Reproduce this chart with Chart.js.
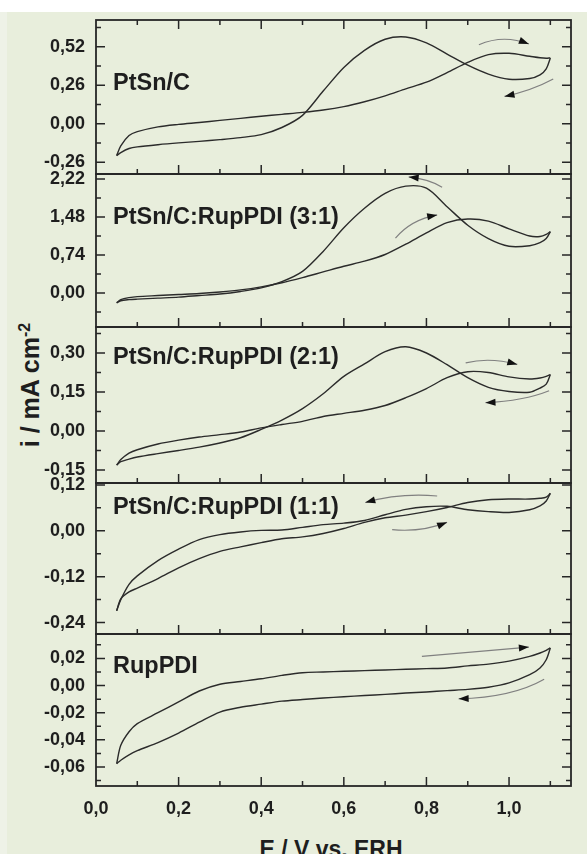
<!DOCTYPE html>
<html>
<head>
<meta charset="utf-8">
<script src="https://cdn.jsdelivr.net/npm/chart.js@4.4.0/dist/chart.umd.min.js"></script>
<style>
  html, body { margin: 0; padding: 0; background: #fff; }
  body { width: 587px; height: 854px; position: relative; overflow: hidden; font-family: "Liberation Sans", Arial, sans-serif; }
  #bg { position: absolute; left: 0; top: 12px; width: 587px; height: 842px; background: #eef2e7; }
  #bg2 { position: absolute; left: 7px; top: 12px; width: 580px; height: 842px; background: #e8eedc; }
  canvas { position: absolute; left: 0; }
  .ytitle { position: absolute; left: 30px; top: 385px; transform: translate(-50%, -50%) rotate(-90deg);
            font-weight: bold; font-size: 25px; white-space: nowrap; color: #1e1e1e; line-height: 1; }
  .ytitle sup { font-size: 16px; }
  .xtitle { position: absolute; left: 331px; top: 849px; transform: translate(-50%, -50%);
            font-weight: bold; font-size: 23px; white-space: nowrap; color: #1e1e1e; line-height: 1; }
</style>
</head>
<body>
<div id="bg"></div>
<div id="bg2"></div>
<div class="ytitle">i / mA cm<sup>-2</sup></div>
<div class="xtitle">E / V vs. ERH</div>
<script>
// potential grid (V) shared by every scan
const potential = [0.05, 0.06, 0.08, 0.10, 0.15, 0.20, 0.25, 0.30, 0.35, 0.40, 0.45, 0.50, 0.55,
                   0.60, 0.65, 0.70, 0.75, 0.80, 0.85, 0.90, 0.95, 1.00, 1.05, 1.075, 1.09, 1.10];

const panelNames = ['PtSn/C', 'PtSn/C:RupPDI (3:1)', 'PtSn/C:RupPDI (2:1)', 'PtSn/C:RupPDI (1:1)', 'RupPDI'];

// current density (mA cm-2), forward and return branch, both listed along the grid
const ptsnFwd = [-0.216, -0.15, -0.08, -0.054, -0.022, -0.005, 0.008, 0.022, 0.036, 0.050, 0.063, 0.076, 0.092,
                 0.115, 0.148, 0.188, 0.235, 0.28, 0.345, 0.414, 0.466, 0.475, 0.455, 0.445, 0.442, 0.444];
const ptsnRev = [-0.216, -0.195, -0.168, -0.157, -0.142, -0.13, -0.12, -0.108, -0.094, -0.074, -0.026, 0.056, 0.22,
                 0.38, 0.495, 0.57, 0.585, 0.545, 0.47, 0.395, 0.335, 0.300, 0.305, 0.33, 0.37, 0.444];

const mix31Fwd = [-0.19, -0.13, -0.09, -0.07, -0.05, -0.03, -0.01, 0.02, 0.06, 0.12, 0.20, 0.30, 0.41,
                  0.52, 0.62, 0.75, 0.95, 1.17, 1.37, 1.44, 1.40, 1.25, 1.11, 1.10, 1.14, 1.195];
const mix31Rev = [-0.19, -0.15, -0.13, -0.12, -0.10, -0.08, -0.05, -0.02, 0.03, 0.10, 0.22, 0.42, 0.81,
                  1.27, 1.65, 1.94, 2.08, 2.04, 1.68, 1.32, 1.06, 0.91, 0.92, 0.98, 1.06, 1.195];

const mix21Fwd = [-0.131, -0.11, -0.085, -0.072, -0.05, -0.035, -0.023, -0.014, -0.004, 0.012, 0.025, 0.037, 0.056,
                  0.068, 0.080, 0.098, 0.128, 0.163, 0.205, 0.228, 0.225, 0.208, 0.200, 0.204, 0.21, 0.217];
const mix21Rev = [-0.131, -0.118, -0.108, -0.10, -0.087, -0.075, -0.062, -0.046, -0.026, 0.006, 0.042, 0.086, 0.143,
                  0.21, 0.258, 0.305, 0.324, 0.30, 0.255, 0.205, 0.168, 0.152, 0.149, 0.165, 0.18, 0.217];

const mix11Fwd = [-0.209, -0.18, -0.14, -0.118, -0.078, -0.048, -0.023, -0.01, -0.003, 0.001, 0.002, 0.009, 0.016,
                  0.02, 0.027, 0.042, 0.056, 0.063, 0.064, 0.055, 0.05, 0.048, 0.055, 0.065, 0.078, 0.098];
const mix11Rev = [-0.209, -0.178, -0.16, -0.15, -0.125, -0.097, -0.073, -0.054, -0.042, -0.031, -0.021, -0.016, -0.007,
                  0.006, 0.022, 0.034, 0.041, 0.05, 0.061, 0.074, 0.081, 0.083, 0.083, 0.085, 0.088, 0.098];

const rupFwd = [-0.0575, -0.044, -0.034, -0.028, -0.020, -0.012, -0.004, 0.001, 0.003, 0.005, 0.0075, 0.0095, 0.010,
                0.0105, 0.011, 0.0115, 0.012, 0.0125, 0.013, 0.0145, 0.0158, 0.018, 0.0215, 0.024, 0.026, 0.0277];
const rupRev = [-0.0575, -0.055, -0.051, -0.048, -0.042, -0.035, -0.027, -0.0195, -0.016, -0.0137, -0.0115, -0.0103, -0.0092,
                -0.0082, -0.0073, -0.0065, -0.0055, -0.0047, -0.0037, -0.0028, -0.0012, 0.002, 0.008, 0.013, 0.019, 0.0277];

// axis ticks and limits
const xTicks = [0, 0.2, 0.4, 0.6, 0.8, 1.0];
const xRange = [0, 1.15];
const yTicks1 = [-0.26, 0, 0.26, 0.52];
const yTicks2 = [0, 0.74, 1.48, 2.22];
const yTicks3 = [-0.15, 0, 0.15, 0.30];
const yTicks4 = [-0.24, -0.12, 0, 0.12];
const yTicks5 = [-0.06, -0.04, -0.02, 0, 0.02];
const yRange1 = [-0.34, 0.70];
const yRange2 = [-0.662, 2.317];
const yRange3 = [-0.20, 0.40];
const yRange4 = [-0.27, 0.125];
const yRange5 = [-0.074, 0.038];

// scan direction arrows: tail, middle, head in (E, i)
const arrows1 = [[[0.927, 0.533], [0.987, 0.57], [1.048, 0.538]], [[1.107, 0.302], [1.052, 0.234], [0.989, 0.184]]];
const arrows2 = [[[0.838, 2.06], [0.801, 2.19], [0.757, 2.26]], [[0.725, 1.067], [0.769, 1.36], [0.826, 1.52]]];
const arrows3 = [[[0.895, 0.262], [0.955, 0.272], [1.02, 0.256]], [[1.097, 0.155], [1.028, 0.124], [0.943, 0.109]]];
const arrows4 = [[[0.826, 0.091], [0.737, 0.091], [0.652, 0.074]], [[0.717, 0.003], [0.785, 0.004], [0.85, 0.022]]];
const arrows5 = [[[0.789, 0.0215], [0.923, 0.025], [1.048, 0.0284]], [[1.085, 0.0047], [0.995, -0.0056], [0.878, -0.0098]]];

// layout (px)
const panelTops = [20, 174, 327, 483, 634];
const panelBottoms = [174, 327, 483, 634, 786];
const labelOffsets = [64, 44, 31, 25, 33];
const FONT = '"Liberation Sans", Arial, sans-serif';
const INK = '#1e1e1e';

const framePlugin = {
  id: 'frame',
  afterDatasetsDraw(chart, args, opts) {
    const { ctx, chartArea: a, scales: { x, y } } = chart;
    ctx.save();
    ctx.strokeStyle = '#262626';
    ctx.lineWidth = 1.8;
    ctx.strokeRect(a.left, a.top, a.width, a.height);

    // inward ticks, minor ones halfway between majors
    ctx.lineWidth = 1.5;
    ctx.beginPath();
    const xs = xTicks[1] - xTicks[0];
    for (let k = 0; ; k++) {
      const v = xTicks[0] + k * xs / 2;
      if (v > x.max + 1e-9) break;
      const px = x.getPixelForValue(v);
      if (px < a.left + 1 || px > a.right - 1) continue;
      const len = k % 2 === 0 ? 9 : 5;
      ctx.moveTo(px, a.bottom); ctx.lineTo(px, a.bottom - len);
      if (opts.topTicks) { ctx.moveTo(px, a.top); ctx.lineTo(px, a.top + len); }
    }
    const yt = opts.yTicks;
    const ys = yt[1] - yt[0];
    for (let k = -2; ; k++) {
      const v = yt[0] + k * ys / 2;
      if (v > y.max + 1e-9) break;
      if (v < y.min) continue;
      const py = y.getPixelForValue(v);
      if (py < a.top + 1 || py > a.bottom - 1) continue;
      const len = ((k % 2) + 2) % 2 === 0 ? 9 : 5;
      ctx.moveTo(a.left, py); ctx.lineTo(a.left + len, py);
      ctx.moveTo(a.right, py); ctx.lineTo(a.right - len, py);
    }
    ctx.stroke();

    // panel name
    ctx.fillStyle = INK;
    ctx.font = 'bold 23.5px ' + FONT;
    ctx.textBaseline = 'middle';
    ctx.textAlign = 'left';
    ctx.fillText(opts.name, a.left + 17, a.top + opts.labelOffset);

    // arrows
    const P = p => [x.getPixelForValue(p[0]), y.getPixelForValue(p[1])];
    opts.arrows.forEach(([t, m, h]) => {
      const [tx, ty] = P(t), [mx, my] = P(m), [hx, hy] = P(h);
      const cx = 2 * mx - (tx + hx) / 2, cy = 2 * my - (ty + hy) / 2;
      ctx.strokeStyle = '#808080';
      ctx.lineWidth = 1.2;
      ctx.beginPath();
      ctx.moveTo(tx, ty);
      ctx.quadraticCurveTo(cx, cy, hx, hy);
      ctx.stroke();
      const ang = Math.atan2(hy - cy, hx - cx);
      const c = Math.cos(ang), s = Math.sin(ang);
      ctx.fillStyle = '#111';
      ctx.beginPath();
      ctx.moveTo(hx, hy);
      ctx.lineTo(hx - 10 * c + 3.5 * s, hy - 10 * s - 3.5 * c);
      ctx.lineTo(hx - 10 * c - 3.5 * s, hy - 10 * s + 3.5 * c);
      ctx.closePath();
      ctx.fill();
    });
    ctx.restore();
  }
};

function toPoints(values) {
  return potential.map((e, i) => ({ x: e, y: values[i] }));
}

function makePanel(i, fwd, rev, yTicks, yRange, arrows) {
  const last = i === panelTops.length - 1;
  const padTop = 14;
  const padBottom = last ? 0 : 14;
  const xAxisH = last ? 40 : 0;
  const canvas = document.createElement('canvas');
  canvas.width = 587;
  canvas.height = panelBottoms[i] - panelTops[i] + padTop + padBottom + xAxisH;
  canvas.style.top = (panelTops[i] - padTop) + 'px';
  document.body.appendChild(canvas);

  const line = {
    showLine: true,
    borderColor: '#2b2b2b',
    borderWidth: 1.4,
    pointRadius: 0,
    fill: false,
    tension: 0.3
  };

  new Chart(canvas, {
    type: 'scatter',
    data: {
      datasets: [
        Object.assign({ data: toPoints(fwd) }, line),
        Object.assign({ data: toPoints(rev) }, line)
      ]
    },
    options: {
      responsive: false,
      animation: false,
      devicePixelRatio: 1,
      layout: { padding: { left: 0, right: 16, top: padTop, bottom: padBottom } },
      plugins: {
        legend: { display: false },
        tooltip: { enabled: false },
        frame: { name: panelNames[i], labelOffset: labelOffsets[i], yTicks: yTicks, arrows: arrows, topTicks: i === 0 }
      },
      scales: {
        x: {
          type: 'linear',
          min: xRange[0],
          max: xRange[1],
          display: last,
          grid: { display: false, drawTicks: false },
          border: { display: false },
          afterBuildTicks: s => { s.ticks = xTicks.map(v => ({ value: v })); },
          afterFit: s => { s.height = xAxisH; s.paddingLeft = 0; s.paddingRight = 0; },
          ticks: {
            autoSkip: false,
            maxRotation: 0,
            padding: 12,
            color: INK,
            font: { family: FONT, size: 18, weight: 'bold' },
            callback: v => v.toFixed(1).replace('.', ',')
          }
        },
        y: {
          type: 'linear',
          min: yRange[0],
          max: yRange[1],
          grid: { display: false, drawTicks: false },
          border: { display: false },
          afterBuildTicks: s => { s.ticks = yTicks.map(v => ({ value: v })); },
          afterFit: s => { s.width = 96; s.paddingTop = 0; s.paddingBottom = 0; },
          ticks: {
            autoSkip: false,
            padding: 11,
            color: INK,
            font: { family: FONT, size: 18, weight: 'bold' },
            callback: v => v.toFixed(2).replace('.', ',')
          }
        }
      }
    },
    plugins: [framePlugin]
  });
}

makePanel(0, ptsnFwd, ptsnRev, yTicks1, yRange1, arrows1);
makePanel(1, mix31Fwd, mix31Rev, yTicks2, yRange2, arrows2);
makePanel(2, mix21Fwd, mix21Rev, yTicks3, yRange3, arrows3);
makePanel(3, mix11Fwd, mix11Rev, yTicks4, yRange4, arrows4);
makePanel(4, rupFwd, rupRev, yTicks5, yRange5, arrows5);
</script>
</body>
</html>
